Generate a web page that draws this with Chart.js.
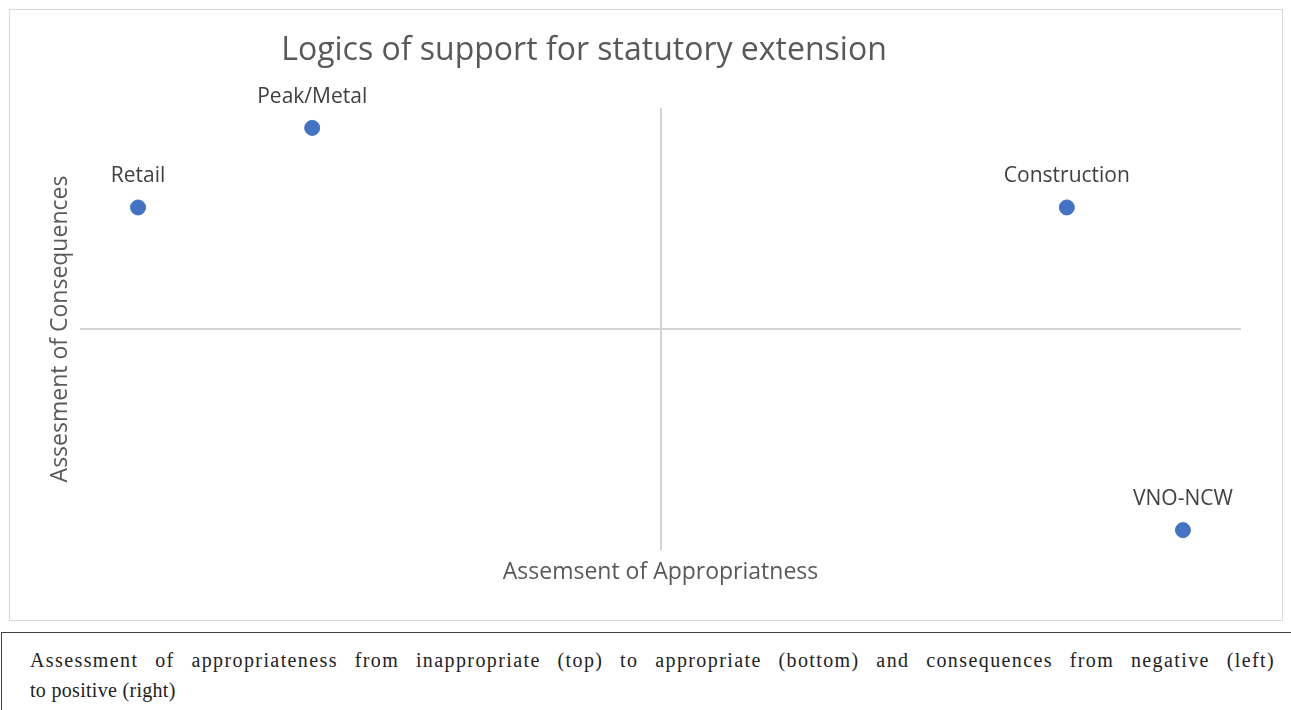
<!DOCTYPE html>
<html>
<head>
<meta charset="utf-8">
<script src="https://cdn.jsdelivr.net/npm/chart.js@4/dist/chart.umd.min.js"></script>
<style>
  body { margin: 0; background: #fff; width: 1291px; height: 710px; overflow: hidden; position: relative; }
  #box { position: absolute; left: 9px; top: 9px; width: 1272px; height: 610px; border: 1px solid #d9d9d9; }
  #caption {
    position: absolute; left: 1px; top: 632px; width: 1320px; height: 120px;
    border-top: 1.5px solid #404040; border-left: 1.5px solid #404040;
    font-family: "Liberation Serif", serif; font-size: 20px; letter-spacing: 0.3px; line-height: 30px; color: #222;
    padding-top: 12px; box-sizing: border-box;
  }
  #caption .l1 { width: 1245px; margin-left: 28px; text-align: justify; text-align-last: justify; white-space: nowrap; }
  #caption .l2 { margin-left: 28px; }
</style>
</head>
<body>
<div id="box"><canvas id="chart-logics" width="1272" height="610"></canvas></div>
<div id="caption">
  <div class="l1"><span id="l1-text">Assessment of appropriateness from inappropriate (top) to appropriate (bottom) and consequences from negative (left)</span></div>
  <div class="l2">to positive (right)</div>
</div>
<script>
const organisations = ['Retail', 'Peak/Metal', 'Construction', 'VNO-NCW'];
const appropriateness = [-9, -6, 7, 9];
const consequences = [5.5, 9.1, 5.5, -9.1];
const axisMin = -10;
const axisMax = 10;
const chartTitle = 'Logics of support for statutory extension';

const chartLogics = document.getElementById('chart-logics');

// first caption line: share the missing width between letters and word gaps (original font is Garamond)
const l1 = document.getElementById('l1-text');
const l1Box = l1.parentElement;
l1Box.style.textAlign = 'left';
l1Box.style.textAlignLast = 'left';
const l1Width = l1.getBoundingClientRect().width;
const l1Chars = l1.textContent.length;
l1Box.style.letterSpacing = (0.3 + 0.5 * (1238 - l1Width) / l1Chars) + 'px';
l1Box.style.textAlign = 'justify';
l1Box.style.textAlignLast = 'justify';
l1Box.style.whiteSpace = 'normal';

// labels above each point (no datalabels plugin offline) + title sitting left of centre like the original
const pointLabels = {
    id: 'pointLabels',
    afterDatasetsDraw(chart) {
        const ctx = chart.ctx;
        const meta = chart.getDatasetMeta(0);
        ctx.save();
        ctx.font = '21px "Open Sans"';
        ctx.fillStyle = '#404040';
        ctx.textAlign = 'center';
        ctx.textBaseline = 'alphabetic';
        meta.data.forEach((pt, i) => {
            ctx.fillText(organisations[i], pt.x, pt.y - 25);
        });
        ctx.font = '32px "Open Sans"';
        ctx.fillStyle = '#595959';
        ctx.textBaseline = 'middle';
        ctx.fillText(chartTitle, 574, 41);
        ctx.restore();
    }
};

const zeroLine = (c) => c.tick.value === 0 ? '#d4d4d4' : 'rgba(0,0,0,0)';

const randerChartLogics = () => {
    const points = organisations.map((name, i) => ({ x: appropriateness[i], y: consequences[i] }));
    new Chart(chartLogics.getContext('2d'), {
        type: 'scatter',
        data: {
            datasets: [{
                label: 'Logics',
                data: points,
                backgroundColor: '#4472C4',
                borderColor: '#4472C4',
                pointRadius: 7.5,
                pointHoverRadius: 7.5
            }]
        },
        options: {
            responsive: false,
            animation: false,
            layout: { padding: { left: 0, right: 41, top: 98, bottom: 0 } },
            plugins: {
                legend: { display: false },
                tooltip: { enabled: false },
                title: { display: false }
            },
            scales: {
                x: {
                    min: axisMin, max: axisMax,
                    ticks: { display: false, stepSize: 10 },
                    border: { display: false },
                    grid: { color: zeroLine, lineWidth: 2, drawTicks: false },
                    title: {
                        display: true,
                        text: 'Assemsent of Appropriatness',
                        color: '#595959',
                        font: { family: 'Open Sans', size: 23, lineHeight: 1.2 },
                        padding: { top: 0, bottom: 34 }
                    },
                    afterFit: (scale) => { scale.height = 70; }
                },
                y: {
                    min: axisMin, max: axisMax,
                    ticks: { display: false, stepSize: 10 },
                    border: { display: false },
                    grid: { color: zeroLine, lineWidth: 2, drawTicks: false },
                    title: {
                        display: true,
                        text: 'Assesment of Consequences',
                        color: '#595959',
                        font: { family: 'Open Sans', size: 23, lineHeight: 1.2 },
                        padding: { top: 37, bottom: 0 }
                    },
                    afterFit: (scale) => { scale.width = 70; }
                }
            }
        },
        plugins: [pointLabels]
    });
}

randerChartLogics();
</script>
</body>
</html>
